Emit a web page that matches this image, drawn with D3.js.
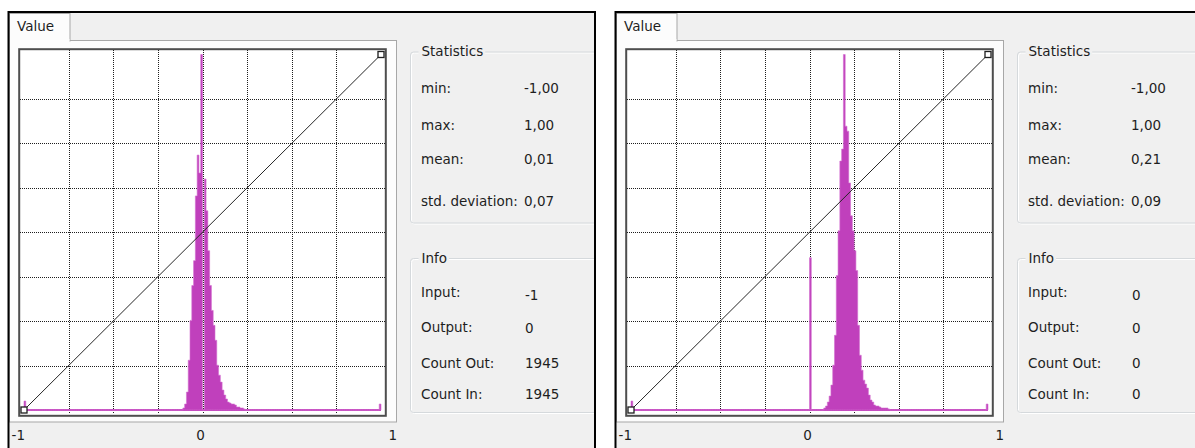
<!DOCTYPE html>
<html>
<head>
<meta charset="utf-8">
<script src="https://cdn.jsdelivr.net/npm/d3@7/dist/d3.min.js"></script>
<style>
  html, body { margin: 0; padding: 0; background: #ffffff; }
  svg { display: block; }
  text { font-family: "DejaVu Sans", sans-serif; font-size: 13.5px; fill: #1e1e1e; }
</style>
</head>
<body>
<div id="chart"></div>
<script>
// Two histogram windows side by side.
// Counts are relative bar heights (bins of 0.01 on the -1..1 axis).

var binWidth = 0.01;

var xTickValues = [-1, 0, 1];
var xTickLabels = ["-1", "0", "1"];
var gridValues = [-0.75, -0.5, -0.25, 0, 0.25, 0.5, 0.75];

// left window
var leftHistStart = -0.11;
var leftHistCounts = [2, 6, 18, 50, 90, 125, 150, 215, 256, 238, 357, 248, 232, 200, 160,
                      125, 100, 85, 70, 45, 35, 28, 20, 15, 11, 8, 7, 6, 6, 5, 3, 3, 2, 2, 1];
var leftZeroCount = 0;
var leftEdgeCounts = [9, 6];        // bins at -1 and +1
var leftStatValues = ["-1,00", "1,00", "0,01", "0,07"];
var leftInfoValues = ["-1", "0", "1945", "1945"];

// right window
var rightHistStart = 0.08;
var rightHistCounts = [2, 4, 8, 14, 25, 45, 75, 135, 180, 250, 262, 357, 285, 280, 228, 195,
                       180, 160, 140, 85, 55, 40, 30, 26, 22, 15, 10, 8, 5, 4, 4, 3, 2, 2, 2, 2, 1];
var rightZeroCount = 153;
var rightEdgeCounts = [9, 6];
var rightStatValues = ["-1,00", "1,00", "0,21", "0,09"];
var rightInfoValues = ["0", "0", "0", "0"];

var statLabels = ["min:", "max:", "mean:", "std. deviation:"];
var infoLabels = ["Input:", "Output:", "Count Out:", "Count In:"];

var magenta = "#c040bc";
var panelBg = "#f0f0f0";

var svg = d3.select("#chart").append("svg")
    .attr("width", 1195)
    .attr("height", 448);

// window clip, so the group boxes run under the right border like the original
svg.append("defs").append("clipPath")
    .attr("id", "winclip")
  .append("rect")
    .attr("x", 0).attr("y", 0).attr("width", 595).attr("height", 480);

// scales shared by both windows (local coordinates of a window)
var xScale = d3.scaleLinear().domain([-1, 1]).range([24, 381]);
var yTransfer = d3.scaleLinear().domain([-1, 1]).range([410, 54.5]);
var maxCount = d3.max(leftHistCounts.concat(rightHistCounts));
var yScale = d3.scaleLinear().domain([0, maxCount]).range([410, 54.5]);
var labelScale = d3.scaleLinear().domain([-1, 0, 1]).range([18.3, 200.5, 392.7]);

// full set of bins over -1..1, empty except where counts were read
function buildBins(start, counts, zeroCount, edgeCounts) {
  var n = Math.round(2 / binWidth);
  var bins = d3.range(n + 1).map(function(i) {
    return { x0: -1 + i * binWidth, count: 0 };
  });
  counts.forEach(function(c, i) {
    bins[Math.round((start + 1) / binWidth) + i].count = c;
  });
  bins[Math.round(1 / binWidth)].count = zeroCount;
  bins[0].count = edgeCounts[0];
  bins[n - 1].count = edgeCounts[1];
  bins[n].count = edgeCounts[1];
  return bins;
}

function groupBox(g, x, y, w, h, title) {
  g.append("rect")
    .attr("x", x + 1).attr("y", y + 1).attr("width", w).attr("height", h)
    .attr("rx", 3)
    .attr("fill", "none").attr("stroke", "#ffffff");
  g.append("rect")
    .attr("x", x).attr("y", y).attr("width", w).attr("height", h)
    .attr("rx", 3)
    .attr("fill", "none").attr("stroke", "#d5d9dc");
  var t = g.append("text")
    .attr("x", x + 11).attr("y", y + 4)
    .text(title);
  var tw = t.node().getComputedTextLength();
  g.insert("rect", function() { return t.node(); })
    .attr("x", x + 8).attr("y", y - 3).attr("width", tw + 5).attr("height", 7)
    .attr("fill", panelBg);
}

function drawWindow(offsetX, bins, statValues, infoValues) {
  var outer = svg.append("g").attr("transform", "translate(" + offsetX + ",0)");
  var g = outer.append("g").attr("clip-path", "url(#winclip)");

  // window background
  g.append("rect")
    .attr("x", 8.5).attr("y", 12).attr("width", 586.5).attr("height", 460)
    .attr("fill", panelBg);

  // tab page
  g.append("rect")
    .attr("x", 9.5).attr("y", 40.5).attr("width", 387).attr("height", 381.5)
    .attr("fill", "#fcfcfc").attr("stroke", "#a7a7a7");
  g.append("rect")
    .attr("x", 9.5).attr("y", 13.5).attr("width", 60.5).attr("height", 27.5)
    .attr("fill", "#fcfcfc").attr("stroke", "#a7a7a7");
  g.append("rect")
    .attr("x", 10).attr("y", 39).attr("width", 59.5).attr("height", 3)
    .attr("fill", "#fcfcfc");
  g.append("text").attr("x", 17).attr("y", 31).text("Value");

  // plot frame
  g.append("rect")
    .attr("x", 19.2).attr("y", 49.2).attr("width", 366.6).attr("height", 366.6)
    .attr("fill", "#ffffff").attr("stroke", "#4d4d4d").attr("stroke-width", 2);

  // dotted grid
  g.selectAll("line.vgrid").data(gridValues).enter().append("line")
    .attr("class", "vgrid")
    .attr("x1", function(d) { return Math.round(xScale(d)) + 0.5; })
    .attr("x2", function(d) { return Math.round(xScale(d)) + 0.5; })
    .attr("y1", 50).attr("y2", 414)
    .attr("stroke", "#1e1e1e").attr("stroke-dasharray", "1,1");
  g.selectAll("line.hgrid").data(gridValues).enter().append("line")
    .attr("class", "hgrid")
    .attr("y1", function(d) { return Math.round(yTransfer(d)) + 0.5; })
    .attr("y2", function(d) { return Math.round(yTransfer(d)) + 0.5; })
    .attr("x1", 20).attr("x2", 385)
    .attr("stroke", "#1e1e1e").attr("stroke-dasharray", "1,1");

  // histogram baseline + step area
  g.append("line")
    .attr("x1", xScale(-1)).attr("x2", xScale(1))
    .attr("y1", yScale(0)).attr("y2", yScale(0))
    .attr("stroke", magenta).attr("stroke-width", 2);
  var area = d3.area()
    .curve(d3.curveStepAfter)
    .x(function(d) { return xScale(d.x0); })
    .y0(yScale(0))
    .y1(function(d) { return yScale(d.count); });
  g.append("path")
    .datum(bins)
    .attr("class", "hist")
    .attr("d", area)
    .attr("fill", magenta)
    .attr("stroke", "#d470d0").attr("stroke-width", 0.6);

  // transfer diagonal with its two handles
  var line = d3.line()
    .x(function(d) { return xScale(d); })
    .y(function(d) { return yTransfer(d); });
  g.append("path")
    .datum([-1, 1])
    .attr("d", line)
    .attr("fill", "none").attr("stroke", "#262626").attr("stroke-width", 1);
  g.selectAll("rect.handle").data([-1, 1]).enter().append("rect")
    .attr("class", "handle")
    .attr("x", function(d) { return xScale(d) - 3; })
    .attr("y", function(d) { return yTransfer(d) - 3; })
    .attr("width", 6).attr("height", 6)
    .attr("fill", "#ffffff").attr("stroke", "#1e1e1e").attr("stroke-width", 1.3);

  // axis labels under the tab page
  g.selectAll("text.xlab").data(xTickValues).enter().append("text")
    .attr("class", "xlab")
    .attr("x", function(d) { return labelScale(d); })
    .attr("y", 440)
    .attr("text-anchor", "middle")
    .text(function(d, i) { return xTickLabels[i]; });

  // Statistics box
  groupBox(g, 410.5, 52, 200, 171, "Statistics");
  var statY = [93, 130, 164, 205.5];
  statLabels.forEach(function(l, i) {
    g.append("text").attr("x", 421).attr("y", statY[i]).text(l);
    g.append("text").attr("x", 524).attr("y", statY[i]).text(statValues[i]);
  });

  // Info box
  groupBox(g, 410.5, 258.5, 200, 154, "Info");
  var infoY = [297, 332, 368, 398.5];
  var infoValY = [300, 333, 368, 398.5];
  infoLabels.forEach(function(l, i) {
    g.append("text").attr("x", 421).attr("y", infoY[i]).text(l);
    g.append("text").attr("x", 525).attr("y", infoValY[i]).text(infoValues[i]);
  });

  // window border on top
  outer.append("path")
    .attr("d", "M8.5,470 V12 H595 V470")
    .attr("fill", "none").attr("stroke", "#000000").attr("stroke-width", 2);
}

drawWindow(0, buildBins(leftHistStart, leftHistCounts, leftZeroCount, leftEdgeCounts),
           leftStatValues, leftInfoValues);
drawWindow(607, buildBins(rightHistStart, rightHistCounts, rightZeroCount, rightEdgeCounts),
           rightStatValues, rightInfoValues);
</script>
</body>
</html>
